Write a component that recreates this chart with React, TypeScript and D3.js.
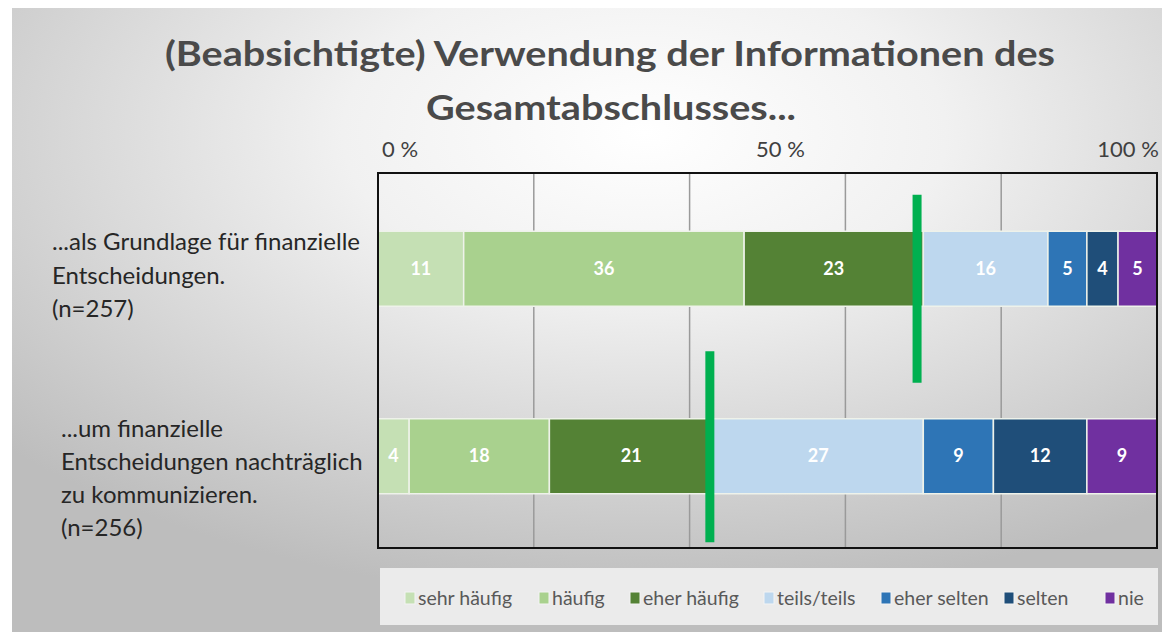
import React from "react";
import * as d3 from "d3";

const categories = [
  ["...als Grundlage für finanzielle", "Entscheidungen.", "(n=257)"],
  ["...um finanzielle", "Entscheidungen nachträglich", "zu kommunizieren.", "(n=256)"],
];
const seriesNames = ["sehr häufig", "häufig", "eher häufig", "teils/teils", "eher selten", "selten", "nie"];
const seriesColors = ["#C5E0B4", "#A9D18E", "#548235", "#BDD7EE", "#2E75B6", "#1F4E79", "#7030A0"];
const row1Values = [11, 36, 23, 16, 5, 4, 5];
const row2Values = [4, 18, 21, 27, 9, 12, 9];
const markerValues = [69.2, 42.6];
const tickValues = [0, 50, 100];
const tickLabels = ["0 %", "50 %", "100 %"];
const gridValues = [20, 40, 60, 80];

const W = 1162;
const H = 632;
const plot = { left: 378, right: 1157, top: 173, bottom: 548 };
const FONT = "Lato, 'Open Sans', sans-serif";

export default function App() {
  const rows = [row1Values, row2Values];
  const x = d3.scaleLinear().domain([0, 100]).range([plot.left, plot.right]);
  const y = d3
    .scaleBand<number>()
    .domain(rows.map((_, i) => i))
    .range([plot.top + 2, plot.bottom + 2])
    .paddingInner(0.6)
    .paddingOuter(0.3);

  const stacked = rows.map((vals) => {
    let acc = 0;
    return vals.map((v, i) => {
      const s = { x0: acc, x1: acc + v, v, i };
      acc += v;
      return s;
    });
  });

  const tickOffsets = [22, 13, -29];
  const markerExtents = [
    [-74, 114],
    [-105, 86],
  ];
  const labelLayout = [
    { x: 52, y0: 250, dy: 33.5 },
    { x: 61, y0: 437, dy: 33 },
  ];
  const legendX = [405, 539, 630, 764, 881, 1004, 1105];

  return (
    <svg
      width={W}
      height={H}
      style={{ position: "absolute", left: 0, top: 0, display: "block" }}
      fontFamily={FONT}
    >
      <defs>
        <radialGradient id="bg" cx="0.55" cy="0.2" r="0.75" fx="0.55" fy="0.2">
          <stop offset="0" stopColor="#ffffff" />
          <stop offset="0.35" stopColor="#f1f1f1" />
          <stop offset="1" stopColor="#bdbdbd" />
        </radialGradient>
      </defs>
      <rect x={0} y={0} width={W} height={H} fill="#ffffff" />
      <rect x={12} y={8} width={W - 12} height={H - 8} fill="url(#bg)" />

      {/* title */}
      <text x={610} y={66} textAnchor="middle" fontSize={34} fontWeight="bold" fill="#4a4a4a" textLength={890} lengthAdjust="spacingAndGlyphs">
        (Beabsichtigte) Verwendung der Informationen des
      </text>
      <text x={611} y={120} textAnchor="middle" fontSize={34} fontWeight="bold" fill="#4a4a4a" textLength={370} lengthAdjust="spacingAndGlyphs">
        Gesamtabschlusses...
      </text>

      {/* tick labels */}
      {tickValues.map((t, i) => (
        <text key={t} x={x(t) + tickOffsets[i]} y={157} textAnchor="middle" fontSize={22} fill="#404040">
          {tickLabels[i]}
        </text>
      ))}

      {/* gridlines */}
      {gridValues.map((g) => (
        <line key={g} x1={x(g)} x2={x(g)} y1={plot.top} y2={plot.bottom} stroke="#9a9a9a" strokeWidth={1.5} />
      ))}

      {/* bars */}
      {stacked.map((segs, r) => (
        <g key={r}>
          {segs.map((s) => (
            <g key={s.i}>
              <rect
                x={x(s.x0)}
                y={y(r)!}
                width={x(s.x1) - x(s.x0)}
                height={y.bandwidth()}
                fill={seriesColors[s.i]}
                stroke="#eef2ea"
                strokeWidth={1.5}
              />
              <text
                x={(x(s.x0) + x(s.x1)) / 2}
                y={y(r)! + y.bandwidth() / 2 + 6}
                textAnchor="middle"
                fontSize={18}
                fontWeight="bold"
                fill="#ffffff"
              >
                {s.v}
              </text>
            </g>
          ))}
        </g>
      ))}

      {/* border */}
      <rect
        x={plot.left}
        y={plot.top}
        width={plot.right - plot.left}
        height={plot.bottom - plot.top}
        fill="none"
        stroke="#111111"
        strokeWidth={2}
      />

      {/* green markers */}
      {markerValues.map((m, r) => {
        const c = y(r)! + y.bandwidth() / 2;
        return (
          <line
            key={r}
            x1={x(m)}
            x2={x(m)}
            y1={c + markerExtents[r][0]}
            y2={c + markerExtents[r][1]}
            stroke="#00B050"
            strokeWidth={9}
          />
        );
      })}

      {/* category labels */}
      {categories.map((lines, r) => (
        <g key={r}>
          {lines.map((ln, j) => (
            <text key={j} x={labelLayout[r].x} y={labelLayout[r].y0 + j * labelLayout[r].dy} fontSize={24} fill="#262626">
              {ln}
            </text>
          ))}
        </g>
      ))}

      {/* legend */}
      <rect x={380} y={568} width={778} height={57} fill="#ebebeb" />
      {seriesNames.map((n, i) => (
        <g key={n}>
          <rect x={legendX[i]} y={592} width={10} height={12} fill={seriesColors[i]} stroke="#f4f4f4" strokeWidth={1} />
          <text x={legendX[i] + 13} y={605} fontSize={19.5} fill="#595959">
            {n}
          </text>
        </g>
      ))}
    </svg>
  );
}
